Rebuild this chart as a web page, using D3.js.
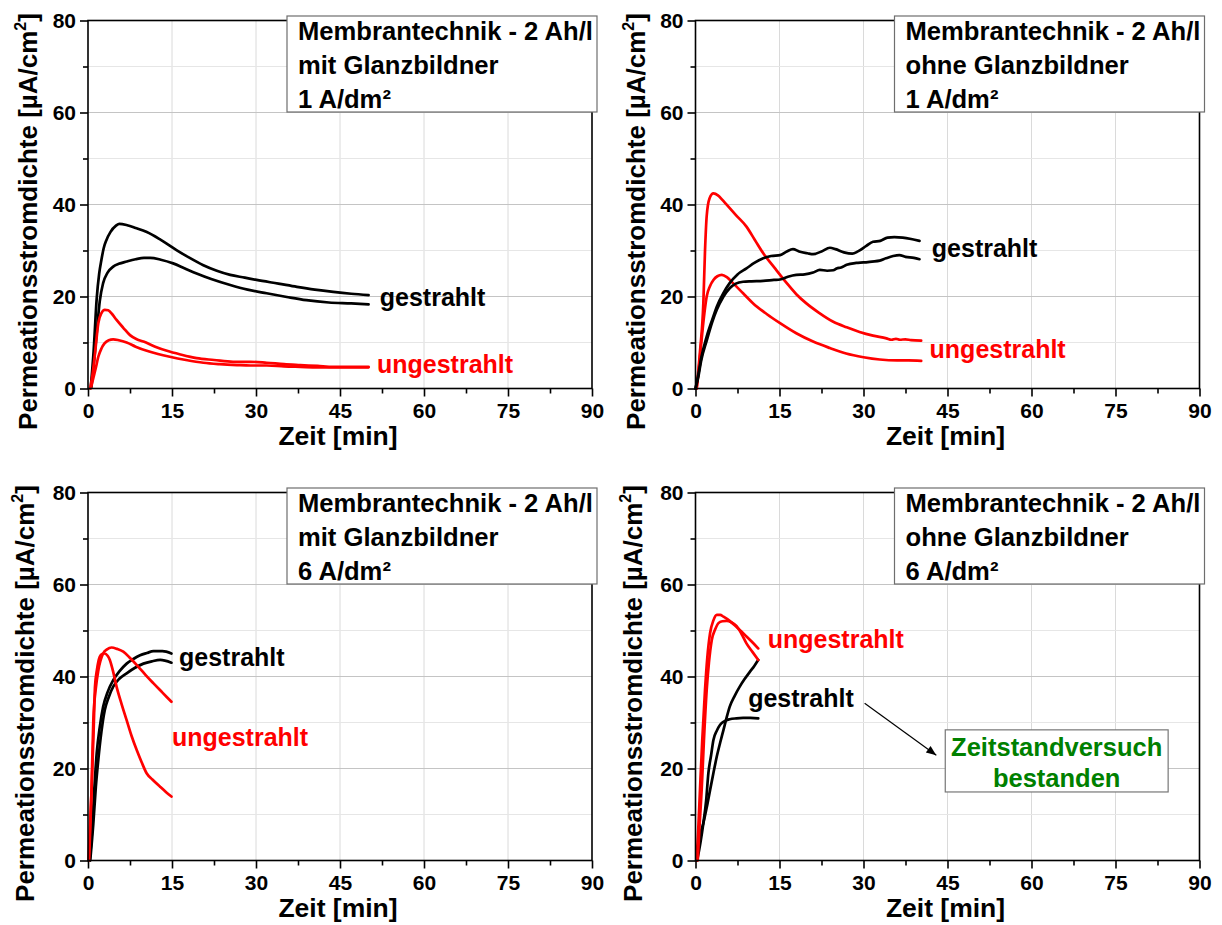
<!DOCTYPE html>
<html>
<head>
<meta charset="utf-8">
<script src="https://cdn.jsdelivr.net/npm/d3@7"></script>
<style>
  body { margin: 0; background: #fff; }
  svg { display: block; font-family: "Liberation Sans", Arial, sans-serif; font-weight: bold; }
</style>
</head>
<body>
<svg id="chart" width="1222" height="925"></svg>
<script>
// ---- axis ticks and labels ----
const xTicks = [0, 15, 30, 45, 60, 75, 90];
const xMinorTicks = [7.5, 22.5, 37.5, 52.5, 67.5, 82.5];
const yTicks = [0, 20, 40, 60, 80];
const yMinorTicks = [10, 30, 50, 70];
const xTitle = "Zeit [min]";
const yTitle = ["Permeationsstromdichte [µA/cm", "2", "]"];

// ---- panel titles ----
const titleMit1 = ["Membrantechnik - 2 Ah/l", "mit Glanzbildner", "1 A/dm²"];
const titleOhne1 = ["Membrantechnik - 2 Ah/l", "ohne Glanzbildner", "1 A/dm²"];
const titleMit6 = ["Membrantechnik - 2 Ah/l", "mit Glanzbildner", "6 A/dm²"];
const titleOhne6 = ["Membrantechnik - 2 Ah/l", "ohne Glanzbildner", "6 A/dm²"];

// ---- series: [Zeit in min, Permeationsstromdichte in µA/cm²] ----
// mit Glanzbildner, 1 A/dm²
const mit1Gestrahlt1 = [[0.5,0.3],[1.0,8],[1.55,19.5],[2.0,25],[2.4,28],[2.8,30.5],[3.3,32.3],[4.0,34],[5.0,35.4],[5.6,35.8],[7,35.5],[8.5,34.9],[10.5,34.0],[13,32.3],[15.8,30.1],[18,28.5],[20.6,26.8],[23,25.6],[25.4,24.7],[28,24.1],[30.1,23.6],[34,22.8],[37.3,22.1],[40.5,21.5],[43.8,21.0],[47,20.6],[50.1,20.3]];
const mit1Gestrahlt2 = [[0.6,0.3],[1.0,5],[1.55,12],[2.1,19],[2.7,22.9],[3.5,25.2],[4.5,26.5],[5.5,27.1],[6.9,27.6],[8.5,28.1],[10,28.4],[11.1,28.4],[13,28.0],[15.2,27.2],[17.3,26.1],[19.4,25.0],[22,23.8],[25.4,22.5],[28.5,21.5],[31.9,20.7],[35.5,19.9],[39.0,19.2],[43,18.7],[47,18.5],[50.1,18.3]];
const mit1Ungestrahlt1 = [[0.4,0],[0.8,3],[1.25,7.6],[1.84,14.2],[2.4,16.4],[3.0,17.1],[3.6,17.0],[4.3,16.2],[5.1,14.9],[6.3,13.2],[7.5,11.6],[8.7,10.7],[9.9,10.2],[12,9.1],[14.1,8.2],[16.5,7.4],[19.4,6.6],[22.5,6.2],[25.9,5.8],[29,5.8],[31.9,5.6],[35,5.3],[37.9,5.1],[41,4.9],[43.8,4.7],[47,4.7],[50.1,4.7]];
const mit1Ungestrahlt2 = [[0.5,0],[1.0,2.5],[1.4,4.5],[1.84,6.9],[2.4,8.7],[2.95,9.8],[3.7,10.5],[4.5,10.7],[5.5,10.5],[6.9,10.0],[8.5,9.1],[10.5,8.2],[12.5,7.5],[14.6,6.9],[17.5,6.2],[20.6,5.6],[23.5,5.3],[26.6,5.1],[29,5.0],[31.9,5.0],[35,4.8],[37.9,4.7],[41,4.6],[43.8,4.6],[47,4.6],[50.1,4.6]];

// ohne Glanzbildner, 1 A/dm²
const ohne1Gestrahlt1 = [[0,0],[0.5,3],[1,6.5],[2,11.3],[3,15],[3.8,17.8],[5,20.8],[6.1,22.9],[7.5,24.8],[9.1,26.1],[10.5,27.3],[12.1,28.3],[13.5,28.8],[15.1,29.0],[16.3,29.8],[17.4,30.3],[18.5,29.8],[20,29.4],[21,29.2],[22.5,29.8],[24,30.6],[25,30.3],[26.5,29.6],[28,29.3],[29,29.8],[30.5,31.0],[31.7,31.9],[33,32.1],[34.3,32.8],[35.5,32.9],[37,32.8],[38.5,32.5],[40,32.1]];
const ohne1Gestrahlt2 = [[0,0],[0.5,2.5],[1,6],[2,10.4],[3,14.5],[3.8,17.1],[5,20],[6.1,21.8],[7.2,22.8],[8.5,23.2],[10,23.3],[12.1,23.4],[14,23.6],[15.1,23.7],[16.5,24.3],[18,24.7],[19.5,24.8],[21,25.2],[22.2,25.8],[23.5,25.6],[24.6,25.7],[25.2,26.1],[26,26.3],[27,26.9],[28.7,27.3],[30,27.4],[31.5,27.6],[32.9,27.8],[34,28.3],[35.3,28.8],[36.4,29.0],[37.5,28.6],[39,28.4],[40,28.1]];
const ohne1Ungestrahlt1 = [[0.2,0],[0.8,8],[1.4,18.5],[1.7,30],[2.0,37.5],[2.5,41.3],[3.2,42.4],[4.0,42.0],[4.8,41.0],[5.6,39.9],[7.3,37.6],[9.1,35.2],[10.6,32.3],[12.1,29.4],[14.2,26.1],[16.3,22.9],[18,20.5],[19.8,18.5],[22,16.5],[24.6,14.5],[27,13.3],[29.3,12.3],[31.7,11.5],[34.1,10.9],[35,10.6],[35.8,10.8],[36.5,10.6],[37.5,10.7],[38.5,10.5],[40.3,10.4]];
const ohne1Ungestrahlt2 = [[0.2,0],[0.5,3],[0.8,6.9],[1.2,12],[1.6,16.5],[2.0,20.0],[2.6,22.3],[3.2,23.6],[3.9,24.4],[4.7,24.7],[5.6,24.2],[6.7,22.9],[8.5,20.7],[10.3,18.5],[12.7,16.2],[15.1,14.2],[18,12.0],[21.0,10.2],[24,8.8],[26.9,7.6],[30,6.8],[32.9,6.3],[36,6.1],[38,6.1],[40.3,6.0]];

// mit Glanzbildner, 6 A/dm²
const mit6Gestrahlt1 = [[0.3,0],[0.66,5.3],[1.1,15],[1.55,23.3],[2.1,29],[2.7,33.4],[3.5,36.6],[4.5,39.2],[5.6,41.1],[6.9,42.8],[8.1,43.8],[9.3,44.6],[10.5,45.1],[11.7,45.5],[13.3,45.5],[14.9,45.0]];
const mit6Gestrahlt2 = [[0.4,0],[0.95,8],[1.4,16],[1.84,21.9],[2.4,28],[3.0,32.7],[3.7,35.5],[4.5,37.8],[5.6,39.5],[6.9,40.7],[8.4,41.9],[9.9,42.8],[11.4,43.3],[12.9,43.6],[14.9,43.0]];
const mit6Ungestrahlt1 = [[0.1,0],[0.66,16],[1.0,28],[1.25,37.8],[1.6,41.5],[2.1,44.3],[2.5,44.9],[3.0,45.0],[3.5,44.5],[3.9,43.6],[4.5,41],[5.1,37.8],[6.0,34],[6.9,30.5],[7.8,27],[8.7,24.0],[9.6,21.3],[10.5,18.9],[11.5,17.6],[12.9,16.0],[14,14.8],[14.9,13.9]];
const mit6Ungestrahlt2 = [[0.2,0],[0.6,14],[0.95,30.5],[1.4,37.5],[1.84,41.3],[2.7,45.0],[3.4,45.9],[4.2,46.3],[5.2,46.0],[6.3,45.4],[7.6,43.9],[9.0,42.1],[10.3,40.3],[11.7,38.5],[13.3,36.5],[14.9,34.5]];

// ohne Glanzbildner, 6 A/dm²
const ohne6Gestrahlt1 = [[0.3,0],[0.9,4],[1.4,8.1],[1.9,13],[2.3,19.0],[2.8,23],[3.2,26.2],[3.8,28.2],[4.4,29.5],[5.2,30.3],[6.1,30.7],[7.3,30.9],[8.5,31.0],[9.8,31.0],[11.2,30.9]];
const ohne6Gestrahlt2 = [[0.2,0],[0.5,3.5],[0.8,5.5],[1.4,8.1],[2.0,11.5],[2.6,15.3],[3.2,19],[3.8,22.6],[4.4,25.6],[5.0,28.4],[5.5,30.8],[6.1,33.4],[7.0,35.8],[7.9,37.8],[8.8,39.5],[9.7,41.0],[10.5,42.3],[11.2,43.6]];
const ohne6Ungestrahlt1 = [[0.2,0],[0.5,7],[0.8,15.3],[1.2,26],[1.7,37.1],[2.1,44],[2.6,49.4],[3.2,52.2],[3.8,53.4],[4.4,53.4],[5.0,53.0],[6.1,52.1],[7.3,50.8],[8.2,49.8],[9.1,48.7],[10.2,47.4],[11.2,46.1]];
const ohne6Ungestrahlt2 = [[0.4,0],[0.7,7],[1.1,15.3],[1.5,26],[2.0,37.1],[2.4,43],[2.9,47.9],[3.5,50.2],[4.1,51.6],[4.8,52.0],[5.6,52.1],[6.4,51.8],[7.3,51.0],[8.2,49.3],[9.1,47.2],[10.2,45.3],[11.2,43.6]];

// ---- curve labels: [text, Zeit, Wert] ----
const labelsMit1 = [["gestrahlt", 52.1, 17.9], ["ungestrahlt", 51.6, 3.4]];
const labelsOhne1 = [["gestrahlt", 42.2, 28.6], ["ungestrahlt", 41.8, 6.6]];
const labelsMit6 = [["gestrahlt", 16.25, 42.3], ["ungestrahlt", 15.0, 24.8]];
const labelsOhne6 = [["ungestrahlt", 12.9, 46.2], ["gestrahlt", 9.4, 33.4]];

// note box in the lower right panel
const noteLines = ["Zeitstandversuch", "bestanden"];
const noteArrow = [[30.2, 34.2], [43.0, 22.9]];
const noteBox = [[44.6, 28.4], [84.4, 14.9]];

const RED = "#ff0000", BLACK = "#000000", GREEN = "#008000";

const svg = d3.select("#chart");

svg.append("defs").append("marker")
  .attr("id", "arrowhead")
  .attr("viewBox", "0 0 10 10")
  .attr("refX", 10).attr("refY", 5)
  .attr("markerWidth", 12).attr("markerHeight", 10)
  .attr("markerUnits", "userSpaceOnUse")
  .attr("orient", "auto")
  .append("path").attr("d", "M0,1 L10,5 L0,9 z").attr("fill", "#000");

const panels = [
  { left: 88,    top: 20.5,  title: titleMit1,  labelX: 37,
    series: [[mit1Gestrahlt1, BLACK], [mit1Gestrahlt2, BLACK], [mit1Ungestrahlt1, RED], [mit1Ungestrahlt2, RED]],
    labels: labelsMit1 },
  { left: 695.5, top: 20.5,  title: titleOhne1, labelX: 644.5,
    series: [[ohne1Ungestrahlt1, RED], [ohne1Ungestrahlt2, RED], [ohne1Gestrahlt1, BLACK], [ohne1Gestrahlt2, BLACK]],
    labels: labelsOhne1 },
  { left: 88,    top: 492.5, title: titleMit6,  labelX: 34,
    series: [[mit6Gestrahlt1, BLACK], [mit6Gestrahlt2, BLACK], [mit6Ungestrahlt1, RED], [mit6Ungestrahlt2, RED]],
    labels: labelsMit6 },
  { left: 695.5, top: 492.5, title: titleOhne6, labelX: 641.5,
    series: [[ohne6Gestrahlt1, BLACK], [ohne6Gestrahlt2, BLACK], [ohne6Ungestrahlt1, RED], [ohne6Ungestrahlt2, RED]],
    labels: labelsOhne6, note: true }
];

const W = 504, H = 368;

panels.forEach(p => {
  const x = d3.scaleLinear().domain([0, 90]).range([p.left, p.left + W]);
  const y = d3.scaleLinear().domain([0, 80]).range([p.top + H, p.top]);
  const g = svg.append("g");

  // grid
  const grid = g.append("g");
  grid.selectAll(".vg").data(xTicks.slice(1, -1)).join("line")
    .attr("x1", d => x(d)).attr("x2", d => x(d))
    .attr("y1", y(0)).attr("y2", y(80))
    .attr("stroke", "#dadada").attr("stroke-width", 1);
  grid.selectAll(".hm").data(yMinorTicks).join("line")
    .attr("x1", x(0)).attr("x2", x(90))
    .attr("y1", d => y(d)).attr("y2", d => y(d))
    .attr("stroke", "#e6e6e6").attr("stroke-width", 1);
  grid.selectAll(".hg").data(yTicks.slice(1, -1)).join("line")
    .attr("x1", x(0)).attr("x2", x(90))
    .attr("y1", d => y(d)).attr("y2", d => y(d))
    .attr("stroke", "#c4c4c4").attr("stroke-width", 1.2);

  // curves
  const line = d3.line().x(d => x(d[0])).y(d => y(d[1])).curve(d3.curveMonotoneX);
  p.series.forEach(([data, color]) => {
    g.append("path").datum(data)
      .attr("d", line)
      .attr("fill", "none")
      .attr("stroke", color)
      .attr("stroke-width", 2.7)
      .attr("stroke-linejoin", "round")
      .attr("stroke-linecap", "round");
  });

  // frame
  g.append("rect")
    .attr("x", x(0)).attr("y", y(80))
    .attr("width", W).attr("height", H)
    .attr("fill", "none").attr("stroke", "#000").attr("stroke-width", 1.6);

  // axes
  g.append("g").attr("transform", `translate(0,${y(0)})`)
    .call(d3.axisBottom(x).tickValues(xTicks).tickSize(8).tickSizeOuter(0).tickPadding(6.5));
  g.append("g").attr("transform", `translate(0,${y(0)})`)
    .call(d3.axisBottom(x).tickValues(xMinorTicks).tickSize(5).tickSizeOuter(0).tickFormat(""));
  g.append("g").attr("transform", `translate(${x(0)},0)`)
    .call(d3.axisLeft(y).tickValues(yTicks).tickSize(8).tickSizeOuter(0).tickPadding(4));
  g.append("g").attr("transform", `translate(${x(0)},0)`)
    .call(d3.axisLeft(y).tickValues(yMinorTicks).tickSize(5).tickSizeOuter(0).tickFormat(""));
  g.selectAll(".domain").remove();
  g.selectAll(".tick line").attr("stroke", "#000").attr("stroke-width", 1.6);
  g.selectAll(".tick text")
    .attr("fill", "#000")
    .style("font-family", '"Liberation Sans", Arial, sans-serif')
    .style("font-weight", "bold")
    .style("font-size", "21px");

  // axis titles
  g.append("text")
    .attr("x", x(45) - 2).attr("y", y(0) + 56.5)
    .attr("text-anchor", "middle")
    .style("font-size", "26.5px")
    .text(xTitle);
  const yt = g.append("text")
    .attr("transform", `translate(${p.labelX},${y(40) + 17}) rotate(-90)`)
    .attr("text-anchor", "middle")
    .style("font-size", "26px");
  yt.append("tspan").text(yTitle[0]);
  yt.append("tspan").attr("dy", -11).style("font-size", "16px").text(yTitle[1]);
  yt.append("tspan").attr("dy", 11).text(yTitle[2]);

  // curve labels
  p.labels.forEach(([txt, lx, ly]) => {
    g.append("text")
      .attr("x", x(lx)).attr("y", y(ly))
      .attr("fill", txt === "gestrahlt" ? BLACK : RED)
      .style("font-size", "25px")
      .text(txt);
  });

  // title box, top right corner
  const bx = p.left + 199, by = p.top - 4.5;
  g.append("rect")
    .attr("x", bx).attr("y", by)
    .attr("width", 310).attr("height", 96)
    .attr("fill", "#fff").attr("stroke", "#6e6e6e").attr("stroke-width", 1.2);
  p.title.forEach((t, i) => {
    g.append("text")
      .attr("x", bx + 11).attr("y", by + 24 + i * 34)
      .style("font-size", "25.6px")
      .text(t);
  });

  // note with arrow
  if (p.note) {
    g.append("line")
      .attr("x1", x(noteArrow[0][0])).attr("y1", y(noteArrow[0][1]))
      .attr("x2", x(noteArrow[1][0])).attr("y2", y(noteArrow[1][1]))
      .attr("stroke", "#000").attr("stroke-width", 1.2)
      .attr("marker-end", "url(#arrowhead)");
    const nx0 = x(noteBox[0][0]), ny0 = y(noteBox[0][1]);
    const nx1 = x(noteBox[1][0]), ny1 = y(noteBox[1][1]);
    g.append("rect")
      .attr("x", nx0).attr("y", ny0)
      .attr("width", nx1 - nx0).attr("height", ny1 - ny0)
      .attr("fill", "#fff").attr("stroke", "#777").attr("stroke-width", 1.2);
    noteLines.forEach((t, i) => {
      g.append("text")
        .attr("x", (nx0 + nx1) / 2).attr("y", ny0 + 26 + i * 31)
        .attr("text-anchor", "middle")
        .attr("fill", GREEN)
        .style("font-size", "25.5px")
        .text(t);
    });
  }
});
</script>
</body>
</html>
